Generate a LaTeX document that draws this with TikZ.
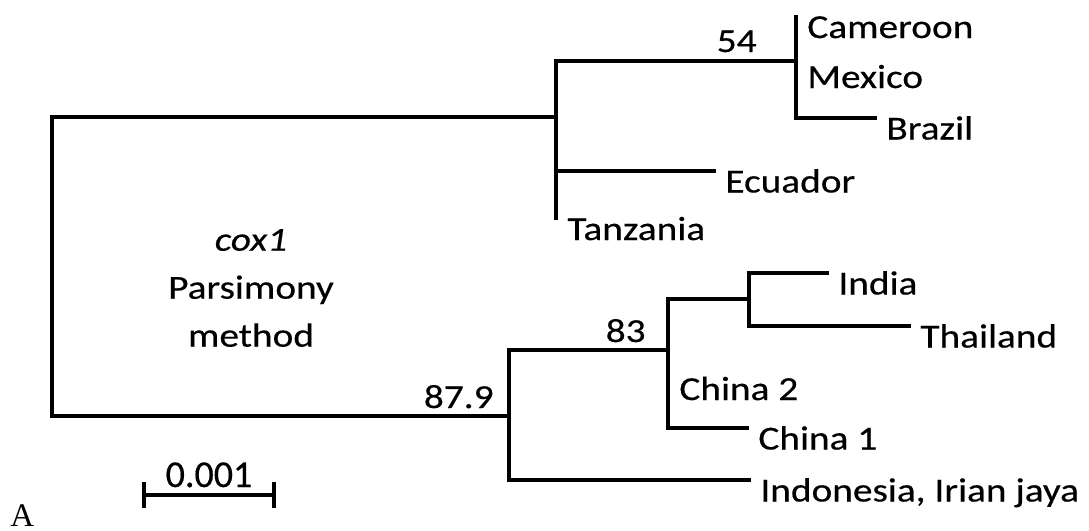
\documentclass[tikz,border=0pt]{standalone}
\usepackage{fontspec}
\setmainfont{Carlito}[FakeStretch=1.17,FakeBold=0.4]
\newfontfamily\scalefont{Carlito}[FakeBold=0.4]
\newfontfamily\panelfont{Liberation Serif}
\usepackage{tikz}
\usetikzlibrary{positioning,calc}
\tikzset{
  branch/.style={line width=1.6pt,draw=black,line cap=rect},
  taxon/.style={anchor=base west,inner sep=0pt,font=\fontsize{16.8}{20}\selectfont,xshift=5.5pt,yshift=-10.75pt},
  boot/.style={anchor=base east,inner sep=0pt,font=\fontsize{16.8}{20}\selectfont},
  note/.style={align=center,inner sep=0pt,font=\fontsize{16.8}{24}\selectfont},
}

\begin{document}
\begin{tikzpicture}[x=0.5pt,y=-0.5pt]
  \useasboundingbox (0,0) rectangle (1089,531);
  % internal nodes
  \coordinate (root) at (52,266);
  \coordinate (na) at (556,117);
  \coordinate (n54) at (796,61);
  \coordinate (nb) at (509,416);
  \coordinate (n83) at (668,350);
  \coordinate (nc) at (749,299);
  % tips
  \coordinate (cam) at (796,16.5);
  \coordinate (mex) at (796,66.5);
  \coordinate (bra) at (875,118);
  \coordinate (ecu) at (714,171);
  \coordinate (tan) at (556,218.5);
  \coordinate (ind) at (827,273);
  \coordinate (tha) at (909,326);
  \coordinate (ch2) at (668,378.5);
  \coordinate (ch1) at (747,428);
  \coordinate (irj) at (749,480);
  % branches
  \foreach \a/\b in {root/na,root/nb,na/n54,na/ecu,na/tan,n54/cam,n54/mex,n54/bra,
                     nb/n83,nb/irj,n83/nc,n83/ch2,n83/ch1,nc/ind,nc/tha}
    \draw[branch] (\a) |- (\b);
  % taxa
  \node[taxon] (cam-l) at (cam) {Cameroon};
  \node[taxon] (mex-l) at (mex) {Mexico};
  \node[taxon] (bra-l) at (bra) {Brazil};
  \node[taxon] (ecu-l) at (ecu) {Ecuador};
  \node[taxon] (tan-l) at (tan) {Tanzania};
  \node[taxon] (ind-l) at (ind) {India};
  \node[taxon] (tha-l) at (tha) {Thailand};
  \node[taxon] (ch2-l) at (ch2) {China 2};
  \node[taxon] (ch1-l) at (ch1) {China 1};
  \node[taxon] (irj-l) at (irj) {Indonesia, Irian jaya};
  % bootstrap values
  \node[boot] (b54) at (757,52) {54};
  \node[boot] (b83) at (646,342) {83};
  \node[boot] (b879) at (494,408) {87.9};
  % method note
  \node[note] (meth) at (251,288) {\textit{cox1}\\Parsimony\\method};
  % scale bar
  \coordinate (sb1) at (144,495);
  \coordinate (sb2) at (274,495);
  \draw[branch] (sb1) -- (sb2);
  \foreach \p in {sb1,sb2} \draw[branch,line cap=butt] ([yshift=6.5pt]\p) -- ([yshift=-6.5pt]\p);
  \node[anchor=base,inner sep=0pt,font=\scalefont\fontsize{19}{22}\selectfont] (sbl) at (209,487) {0.001};
  \node[anchor=base west,inner sep=0pt,font=\panelfont\fontsize{16.5}{20}\selectfont] (panel) at (10,526) {A};
\end{tikzpicture}
\end{document}
